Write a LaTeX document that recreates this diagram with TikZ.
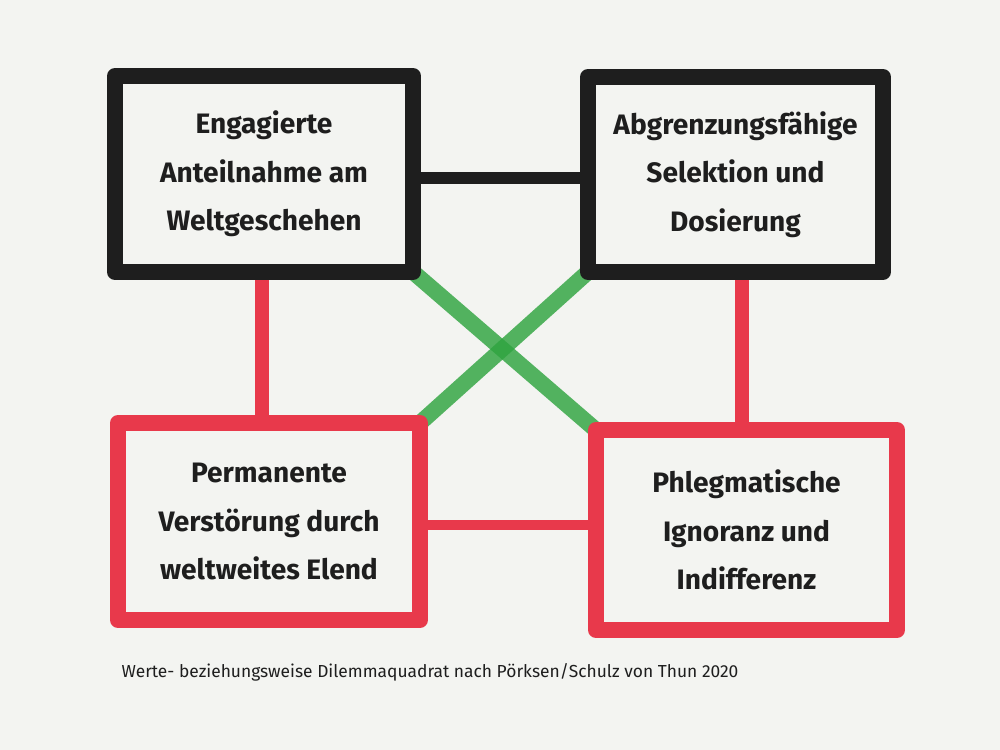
\documentclass[tikz,border=0pt]{standalone}
\usepackage{fontspec}
\setmainfont{Fira Sans}
\definecolor{bgc}{HTML}{F3F4F1}
\definecolor{inkblack}{HTML}{1E1E1E}
\definecolor{inkred}{HTML}{E8394B}
\definecolor{inkgreen}{HTML}{2FA440}
\pgfdeclarelayer{paper}
\pgfdeclarelayer{links}
\pgfsetlayers{paper,links,main}
\tikzset{
  quad/.style={draw=#1, fill=bgc, line width=0.32cm, line join=round,
    inner sep=0pt, outer sep=0pt, align=center, text=inkblack,
    font=\fontsize{16}{27.5}\selectfont\bfseries},
  blackbox/.style={quad=inkblack},
  redbox/.style={quad=inkred},
  blacklink/.style={draw=inkblack, line width=0.24cm},
  redlink/.style={draw=inkred, line width=0.28cm},
  greenlink/.style={draw=inkgreen, line width=0.32cm, opacity=0.82},
  caption/.style={text=inkblack, font=\fontsize{9.9}{11}\selectfont}
}
\begin{document}
\begin{tikzpicture}[x=0.02cm, y=-0.02cm]
\begin{pgfonlayer}{paper}
\fill[bgc] (0,0) rectangle (1000,750);
\end{pgfonlayer}
\useasboundingbox (0,0) rectangle (1000,750);
\node[blackbox, minimum width=5.96cm, minimum height=3.92cm] (TL) at (264,174)
  {Engagierte\\Anteilnahme am\\Weltgeschehen};
\node[blackbox, minimum width=5.9cm, minimum height=3.9cm] (TR) at (735.5,174.5)
  {Abgrenzungsfähige\\Selektion und\\Dosierung};
\node[redbox, minimum width=6.04cm, minimum height=3.94cm] (BL) at (269,521.5)
  {Permanente\\Verstörung durch\\weltweites Elend};
\node[redbox, minimum width=6.02cm, minimum height=4.0cm] (BR) at (746.5,530)
  {Phlegmatische\\Ignoranz und\\Indifferenz};
\node[caption] (cap) at (430,672)
  {Werte- beziehungsweise Dilemmaquadrat nach Pörksen/Schulz von Thun 2020};
\begin{pgfonlayer}{links}
  \draw[blacklink] ([yshift=-0.08cm]TL.east) -- ([yshift=-0.08cm]TL.east -| TR.west);
  \draw[redlink] ([xshift=-0.04cm]TL.south) -- ([xshift=-0.04cm]TL.south |- BL.north);
  \draw[redlink] ([xshift=0.13cm]TR.south) -- ([xshift=0.13cm]TR.south |- BR.north);
  \draw[redlink, line width=0.2cm] ([yshift=-0.07cm]BL.east) -- ([yshift=-0.07cm]BL.east -| BR.west);
  \draw[greenlink] (TL.south east) -- (BR.north west);
  \draw[greenlink] (TR.south west) -- (BL.north east);
\end{pgfonlayer}
\end{tikzpicture}
\end{document}
